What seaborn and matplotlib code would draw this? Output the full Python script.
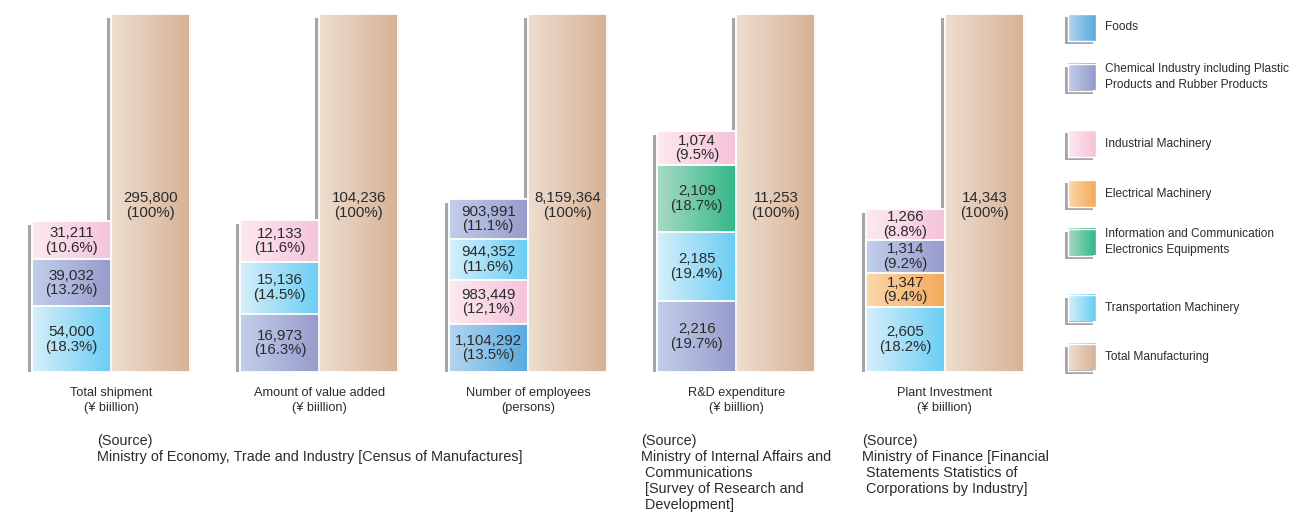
import numpy as np
import pandas as pd
import matplotlib
matplotlib.use("Agg")
import matplotlib.pyplot as plt
from matplotlib.colors import LinearSegmentedColormap
from matplotlib.patches import Rectangle
from matplotlib.transforms import ScaledTranslation
import seaborn as sns

# ---------------------------------------------------------------- data
groups = [
    "Total shipment\n(¥ biillion)",
    "Amount of value added\n(¥ biillion)",
    "Number of employees\n(persons)",
    "R&D expenditure\n(¥ biillion)",
    "Plant Investment\n(¥ biillion)",
]

FOODS = "Foods"
CHEM = "Chemical Industry including Plastic\nProducts and Rubber Products"
IND = "Industrial Machinery"
ELEC = "Electrical Machinery"
INFO = "Information and Communication\nElectronics Equipments"
TRANS = "Transportation Machinery"
TOTAL = "Total Manufacturing"

# stacked segments, listed bottom to top within each group
seg_group = [0, 0, 0,
             1, 1, 1,
             2, 2, 2, 2,
             3, 3, 3, 3,
             4, 4, 4, 4]
seg_category = [TRANS, CHEM, IND,
                CHEM, TRANS, IND,
                FOODS, IND, TRANS, CHEM,
                CHEM, TRANS, INFO, IND,
                TRANS, ELEC, CHEM, IND]
seg_value = [54000, 39032, 31211,
             16973, 15136, 12133,
             1104292, 983449, 944352, 903991,
             2216, 2185, 2109, 1074,
             2605, 1347, 1314, 1266]
seg_share = ["18.3", "13.2", "10.6",
             "16.3", "14.5", "11.6",
             "13.5", "12,1", "11.6", "11.1",
             "19.7", "19.4", "18.7", "9.5",
             "18.2", "9.4", "9.2", "8.8"]

total_value = [295800, 104236, 8159364, 11253, 14343]
total_share = [100, 100, 100, 100, 100]

legend_labels = [FOODS, CHEM, IND, ELEC, INFO, TRANS, TOTAL]

# gradient (left, right) for each category
cat_colors = {
    FOODS: ("#b6d4ef", "#56abe0"),
    CHEM: ("#c2cfea", "#969acb"),
    IND: ("#fde9f1", "#f5c3d9"),
    ELEC: ("#fcd7ac", "#f4a958"),
    INFO: ("#a8dac4", "#31b888"),
    TRANS: ("#d7effb", "#68cdf3"),
    TOTAL: ("#eedecf", "#d6b195"),
}

sources = [
    "(Source)\nMinistry of Economy, Trade and Industry [Census of Manufactures]",
    "(Source)\nMinistry of Internal Affairs and\n Communications\n [Survey of Research and\n Development]",
    "(Source)\nMinistry of Finance [Financial\n Statements Statistics of\n Corporations by Industry]",
]

# ---------------------------------------------------------------- frames
seg = pd.DataFrame({
    "gi": seg_group,
    "category": seg_category,
    "value": seg_value,
    "share_text": seg_share,
})
seg["share"] = seg["share_text"].str.replace(",", ".").astype(float)
seg["group"] = [groups[i] for i in seg["gi"]]
seg["level"] = seg.groupby("gi").cumcount() + 1
seg["top"] = seg.groupby("gi")["share"].cumsum()
seg["bottom"] = seg["top"] - seg["share"]
seg["kind"] = "stack"

tot = pd.DataFrame({
    "gi": range(len(groups)),
    "group": groups,
    "value": total_value,
    "top": total_share,
    "kind": "total",
})

# ---------------------------------------------------------------- style
sns.set_theme(style="white")
NARROW = ["Liberation Sans Narrow", "Liberation Sans", "DejaVu Sans"]
plt.rcParams["font.family"] = NARROW
TEXT = "#2b2b2b"
SHADOW = "#a6a6aa"

W, H = 1313, 514
fig = plt.figure(figsize=(W / 100, H / 100), dpi=100)
ax = fig.add_axes([6.75 / W, 142 / H, 1042.25 / W, 358 / H])

shadow_shift = ScaledTranslation(-4 / 100, -4 / 100, fig.dpi_scale_trans)


def paint(patch, colors, z):
    """Fill a bar patch with a horizontal gradient and a white rim."""
    x0 = patch.get_x()
    x1 = x0 + patch.get_width()
    h = patch.get_height()
    cmap = LinearSegmentedColormap.from_list("grad", colors)
    im = ax.imshow(np.linspace(0, 1, 256)[None, :], cmap=cmap,
                   extent=[x0, x1, 0, h], origin="lower", aspect="auto",
                   interpolation="bilinear", zorder=z)
    im.set_clip_path(patch)
    patch.set_facecolor("none")
    patch.set_edgecolor("white")
    patch.set_linewidth(1.3)
    patch.set_zorder(z + 0.05)


def drop_shadow(patch):
    sh = Rectangle((patch.get_x(), 0), patch.get_width(), patch.get_height(),
                   transform=ax.transData + shadow_shift,
                   facecolor=SHADOW, edgecolor="none", zorder=1)
    ax.add_patch(sh)


def new_bars(data):
    before = list(ax.patches)
    sns.barplot(data=data, x="group", y="top", hue="kind", order=groups,
                hue_order=["stack", "total"], width=0.758, gap=0, dodge=True,
                errorbar=None, legend=False, ax=ax)
    out = []
    for p in ax.patches:
        if any(p is b for b in before):
            continue
        if not np.isfinite(p.get_height()) or p.get_height() <= 0:
            continue
        gi = int(np.floor(p.get_x() + p.get_width() / 2 + 0.5))
        out.append((gi, p))
    return out


VALUE_FS = 10.8

# stacked bars drawn as overlapping cumulative bars, tallest first
shadowed = set()
for k, level in enumerate(range(seg["level"].max(), 0, -1)):
    sub = seg[seg["level"] == level]
    for gi, p in new_bars(sub):
        row = sub[sub["gi"] == gi].iloc[0]
        if gi not in shadowed:
            drop_shadow(p)
            shadowed.add(gi)
        paint(p, cat_colors[row["category"]], 2 + k * 0.1)
        cx = p.get_x() + p.get_width() / 2
        ax.text(cx, (row["bottom"] + row["top"]) / 2,
                f"{row['value']:,}\n({row['share_text']}%)",
                ha="center", va="center", fontsize=VALUE_FS, color=TEXT,
                linespacing=1.05, zorder=10)

# total-manufacturing bars
for gi, p in new_bars(tot):
    row = tot[tot["gi"] == gi].iloc[0]
    drop_shadow(p)
    paint(p, cat_colors[TOTAL], 2)
    cx = p.get_x() + p.get_width() / 2
    ax.text(cx, 46.5, f"{row['value']:,}\n({row['top']}%)",
            ha="center", va="center", fontsize=VALUE_FS, color=TEXT,
            linespacing=1.05, zorder=10)

ax.set_xlim(-0.5, len(groups) - 0.5)
ax.set_ylim(0, 100)
ax.set_xlabel("")
ax.set_ylabel("")
ax.set_yticks([])
ax.set_xticks(range(len(groups)))
ax.set_xticklabels(groups, fontsize=9.2, color=TEXT)
for t in ax.get_xticklabels():
    t.set_linespacing(1.35)
ax.tick_params(axis="x", length=0, pad=11)
sns.despine(ax=ax, left=True, bottom=True)
ax.set_facecolor("none")

# ---------------------------------------------------------------- legend
lg = fig.add_axes([0, 0, 1, 1])
lg.set_xlim(0, W)
lg.set_ylim(H, 0)
lg.axis("off")
lg.set_facecolor("none")

legend_center_y = [27.5, 77, 143.5, 193.5, 242, 308, 357]
sw_x, sw_w, sw_h = 1068, 28, 27
for label, cy in zip(legend_labels, legend_center_y):
    top = cy - sw_h / 2
    lg.add_patch(Rectangle((sw_x - 3, top + 3), sw_w, sw_h,
                           facecolor=SHADOW, edgecolor="none", zorder=1))
    cmap = LinearSegmentedColormap.from_list("grad", cat_colors[label])
    lg.imshow(np.linspace(0, 1, 256)[None, :], cmap=cmap,
              extent=[sw_x, sw_x + sw_w, top + sw_h, top],
              aspect="auto", interpolation="bilinear", zorder=2)
    lg.add_patch(Rectangle((sw_x, top), sw_w, sw_h, facecolor="none",
                           edgecolor="white", linewidth=1.0, zorder=3))
    lg.text(1105, cy, label, ha="left", va="center", fontsize=8.6,
            color=TEXT, linespacing=1.45)

# ---------------------------------------------------------------- sources
source_x = [97, 641, 862]
for sx, txt in zip(source_x, sources):
    lg.text(sx, 434.5, txt, ha="left", va="top", fontsize=10.4,
            family=["Liberation Sans", "DejaVu Sans"], color=TEXT,
            linespacing=1.16)

lg.set_xlim(0, W)
lg.set_ylim(H, 0)

fig.savefig("out.png", dpi=100)
